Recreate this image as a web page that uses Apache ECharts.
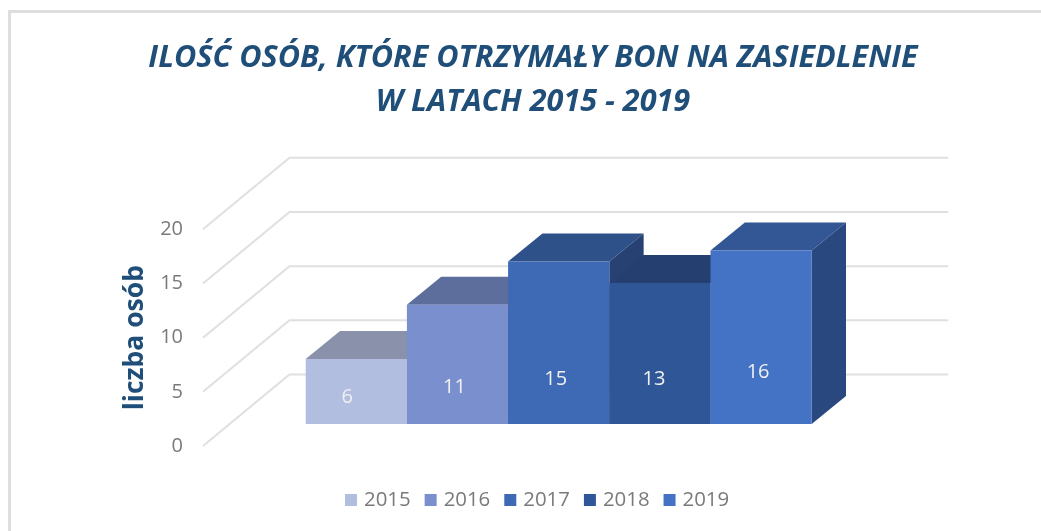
<!DOCTYPE html>
<html>
<head>
<meta charset="utf-8">
<style>html,body{margin:0;padding:0;background:#fff}#chart{width:1041px;height:531px}</style>
<script src="https://cdn.jsdelivr.net/npm/echarts@6/dist/echarts.min.js"></script>
</head>
<body>
<div id="chart"></div>
<script>
const years = ['2015', '2016', '2017', '2018', '2019'];
const people = [6, 11, 15, 13, 16];
const yTicks = [0, 5, 10, 15, 20];
const titleText = 'ILOŚĆ OSÓB, KTÓRE OTRZYMAŁY BON NA ZASIEDLENIE\nW LATACH 2015 - 2019';
const yName = 'liczba osób';

const frontColors = ['#B2BEDF', '#7A90CE', '#3E69B4', '#2F5797', '#4472C4'];
const topColors = ['#8A91AB', '#5D6E9C', '#2F5189', '#263F71', '#335695'];
const sideColors = ['#767C92', '#4F5E85', '#264172', '#20365F', '#2A4880'];
const labelShiftX = [-9, -3, -3, -6, -3];
const labelRise = [27, 37, 45, 45, 52];

const wallDepth = [86.5, -71.5];
const barDepth = [34.3, -28];
const FONT = '"Open Sans", sans-serif';

function renderWall(params, api) {
  const tick = api.value(0);
  const a = api.coord([0, tick]);
  const b = api.coord([1, tick]);
  const back = [a[0] + wallDepth[0], a[1] + wallDepth[1]];
  const backRight = [b[0] + wallDepth[0], b[1] + wallDepth[1]];
  return {
    type: 'polyline',
    shape: { points: [a, back, backRight] },
    style: { stroke: '#E0E0E0', lineWidth: 2, fill: null }
  };
}

function makeBarRenderer(i) {
  return function (params, api) {
    const band = api.size([1, 0])[0];
    const xv = api.value(0);
    const top = api.coord([xv, api.value(1)]);
    const base = api.coord([xv, 0]);
    const l = top[0] - band / 2, r = top[0] + band / 2;
    const t = top[1], b = base[1];
    const dx = barDepth[0], dy = barDepth[1];
    return {
      type: 'group',
      children: [
        { type: 'polygon', shape: { points: [[l, t], [l + dx, t + dy], [r + dx, t + dy], [r, t]] },
          style: { fill: topColors[i] } },
        { type: 'polygon', shape: { points: [[r, t], [r + dx, t + dy], [r + dx, b + dy], [r, b]] },
          style: { fill: sideColors[i] } },
        { type: 'rect', shape: { x: l, y: t, width: r - l, height: b - t },
          style: { fill: frontColors[i] } },
        { type: 'text', style: {
            x: top[0] + labelShiftX[i], y: b - labelRise[i],
            text: String(api.value(1)), fill: '#F0F0F0',
            font: '20px ' + FONT, align: 'center', verticalAlign: 'middle' } }
      ]
    };
  };
}

const barSeries = years.map((year, i) => ({
  type: 'custom',
  name: year,
  xAxisIndex: 1,
  yAxisIndex: 1,
  z: 5 + i,
  silent: true,
  itemStyle: { color: frontColors[i] },
  encode: { x: 0, y: 1 },
  data: [[year, people[i]]],
  renderItem: makeBarRenderer(i)
}));

const chart = echarts.init(document.getElementById('chart'), null, { renderer: 'canvas' });
chart.setOption({
  animation: false,
  backgroundColor: '#ffffff',
  title: {
    text: titleText,
    left: 528,
    top: 31,
    textAlign: 'center',
    textStyle: { fontFamily: FONT, fontSize: 30.6, fontWeight: 'bold', fontStyle: 'italic', color: '#1F4E79', lineHeight: 44 }
  },
  legend: {
    data: years,
    left: 340,
    top: 485,
    icon: 'rect',
    itemWidth: 12,
    itemHeight: 12,
    itemGap: 14,
    textStyle: { fontFamily: FONT, fontSize: 20.4, color: '#7A7A7A', padding: [0, 0, 0, 2] }
  },
  graphic: [{
    type: 'polyline',
    silent: true,
    shape: { points: [[9.5, 531], [9.5, 11.5], [1041, 11.5]] },
    style: { stroke: '#DEDEDE', lineWidth: 3, fill: null }
  }],
  grid: [
    { left: 203, width: 658.8, top: 229.3, height: 216.7 },
    { left: 305.7, width: 506, top: 207.2, height: 216.8 }
  ],
  xAxis: [
    { gridIndex: 0, type: 'value', min: 0, max: 1, show: false },
    { gridIndex: 1, type: 'category', data: years, show: false }
  ],
  yAxis: [
    {
      gridIndex: 0, type: 'value', min: 0, max: 20, interval: 5,
      axisLine: { show: false }, axisTick: { show: false }, splitLine: { show: false },
      axisLabel: { margin: 20, fontFamily: FONT, fontSize: 20, color: '#7A7A7A' },
      name: yName, nameLocation: 'middle', nameGap: 49, nameRotate: 90,
      nameTextStyle: { fontFamily: FONT, fontSize: 26.5, fontWeight: 'bold', color: '#1F4E79' }
    },
    { gridIndex: 1, type: 'value', min: 0, max: 20, interval: 5, show: false }
  ],
  series: [{
    type: 'custom',
    name: 'siatka',
    xAxisIndex: 0,
    yAxisIndex: 0,
    z: 1,
    silent: true,
    encode: { y: 0 },
    data: yTicks.map(v => [v]),
    renderItem: renderWall
  }].concat(barSeries)
});
</script>
</body>
</html>
